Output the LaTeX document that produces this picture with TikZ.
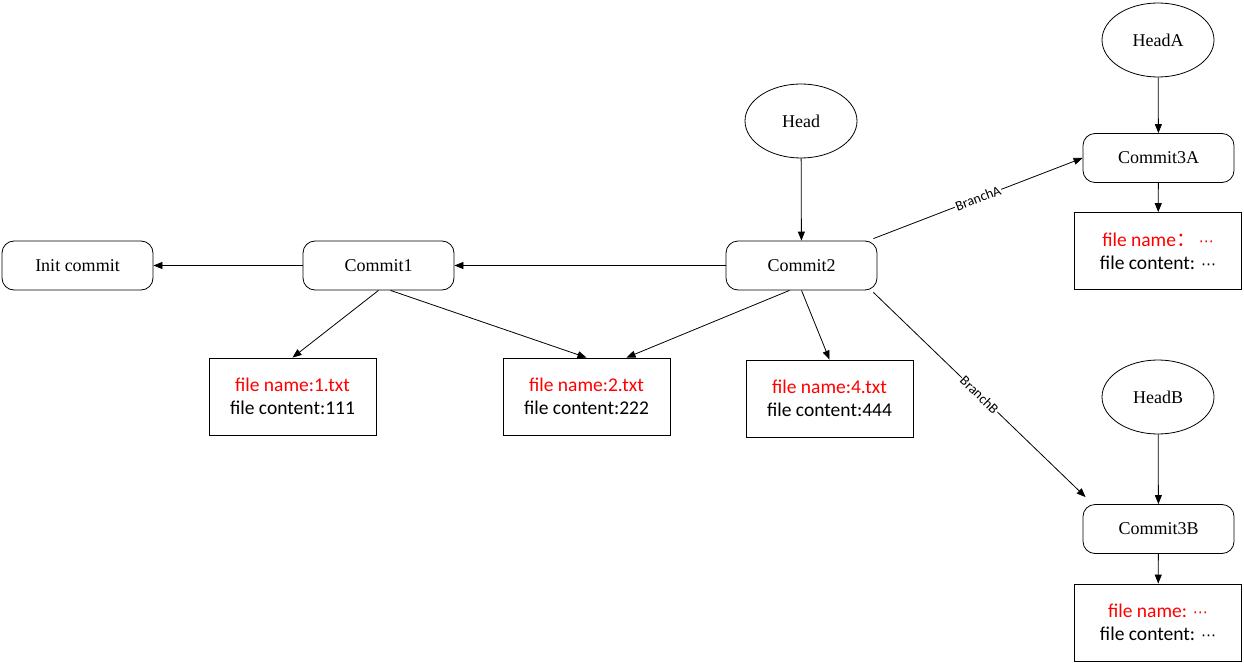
\documentclass[tikz,border=0pt]{standalone}
\usepackage{fontspec}
\setmainfont{Liberation Serif}
\newfontfamily\boxfont{Carlito}
\newfontfamily\cjk{Noto Sans CJK SC}
\newfontfamily\symfont{DejaVu Sans}
\usetikzlibrary{arrows.meta,shapes.geometric}
\newcommand{\middots}{{\symfont\fontsize{15}{15}\selectfont ⋯}}

\begin{document}
\begin{tikzpicture}[x=1pt,y=-1pt,
  commit/.style={draw, line width=0.8pt, rounded corners=12pt, minimum width=151pt, minimum height=49pt,
    inner sep=0pt, font=\fontsize{18}{21}\selectfont},
  headnode/.style={draw, line width=0.8pt, ellipse, minimum width=112pt, minimum height=74pt,
    inner sep=0pt, font=\fontsize{18}{21}\selectfont},
  filebox/.style={draw, line width=0.8pt, minimum width=167pt, minimum height=77pt, inner sep=0pt,
    align=center, font=\boxfont\fontsize{19.5}{23}\selectfont},
  link/.style={line width=0.8pt, -{Triangle[length=9pt,width=7pt]}},
  branchlabel/.style={sloped, fill=white, inner sep=1pt, font=\boxfont\fontsize{14}{16}\selectfont}
]
\useasboundingbox (0,0) rectangle (1244,663);

% commits
\node[commit] (init) at (77.5,265.5) {Init commit};
\node[commit] (c1) at (378.5,265.5) {Commit1};
\node[commit] (c2) at (801.5,265.5) {Commit2};
\node[commit] (c3a) at (1158.5,158) {Commit3A};
\node[commit] (c3b) at (1158.5,529) {Commit3B};

% head pointers
\node[headnode] (head) at (801,121) {Head};
\node[headnode] (heada) at (1158,40) {HeadA};
\node[headnode] (headb) at (1158,397) {HeadB};

% file snapshots
\node[filebox] (f1) at (292.5,396.5) {\textcolor{red}{file name:1.txt}\\file content:111};
\node[filebox] (f2) at (586.5,396.5) {\textcolor{red}{file name:2.txt}\\file content:222};
\node[filebox] (f4) at (829.5,398.5) {\textcolor{red}{file name:4.txt}\\file content:444};
\node[filebox] (fa) at (1158,251) {\textcolor{red}{file name{\cjk ：}\,\middots}\\file content: \middots};
\node[filebox] (fb) at (1158,622.5) {\textcolor{red}{file name: \middots}\\file content: \middots};

% history
\draw[link] (c1) -- (init);
\draw[link] (c2) -- (c1);

% file links
\draw[link] (c1.south) -- (f1.north);
\draw[link] ([xshift=12pt]c1.south) -- (f2.north);
\draw[link] ([xshift=-12pt]c2.south) -- ([xshift=40pt]f2.north);
\draw[link] (c2.south) -- (f4.north);

% heads
\draw[link] (head) -- (c2);
\draw[link] (heada) -- (c3a);
\draw[link] (headb) -- (c3b);
\draw[link] (c3a) -- (fa);
\draw[link] (c3b) -- (fb);

% branches
\draw[link] ([xshift=-4pt,yshift=2pt]c2.north east) -- node[branchlabel] {BranchA} (c3a.west);
\draw[link] ([xshift=-4pt,yshift=-2pt]c2.south east) -- node[branchlabel] {BranchB} ([xshift=3pt,yshift=7pt]c3b.north west);
\end{tikzpicture}
\end{document}
